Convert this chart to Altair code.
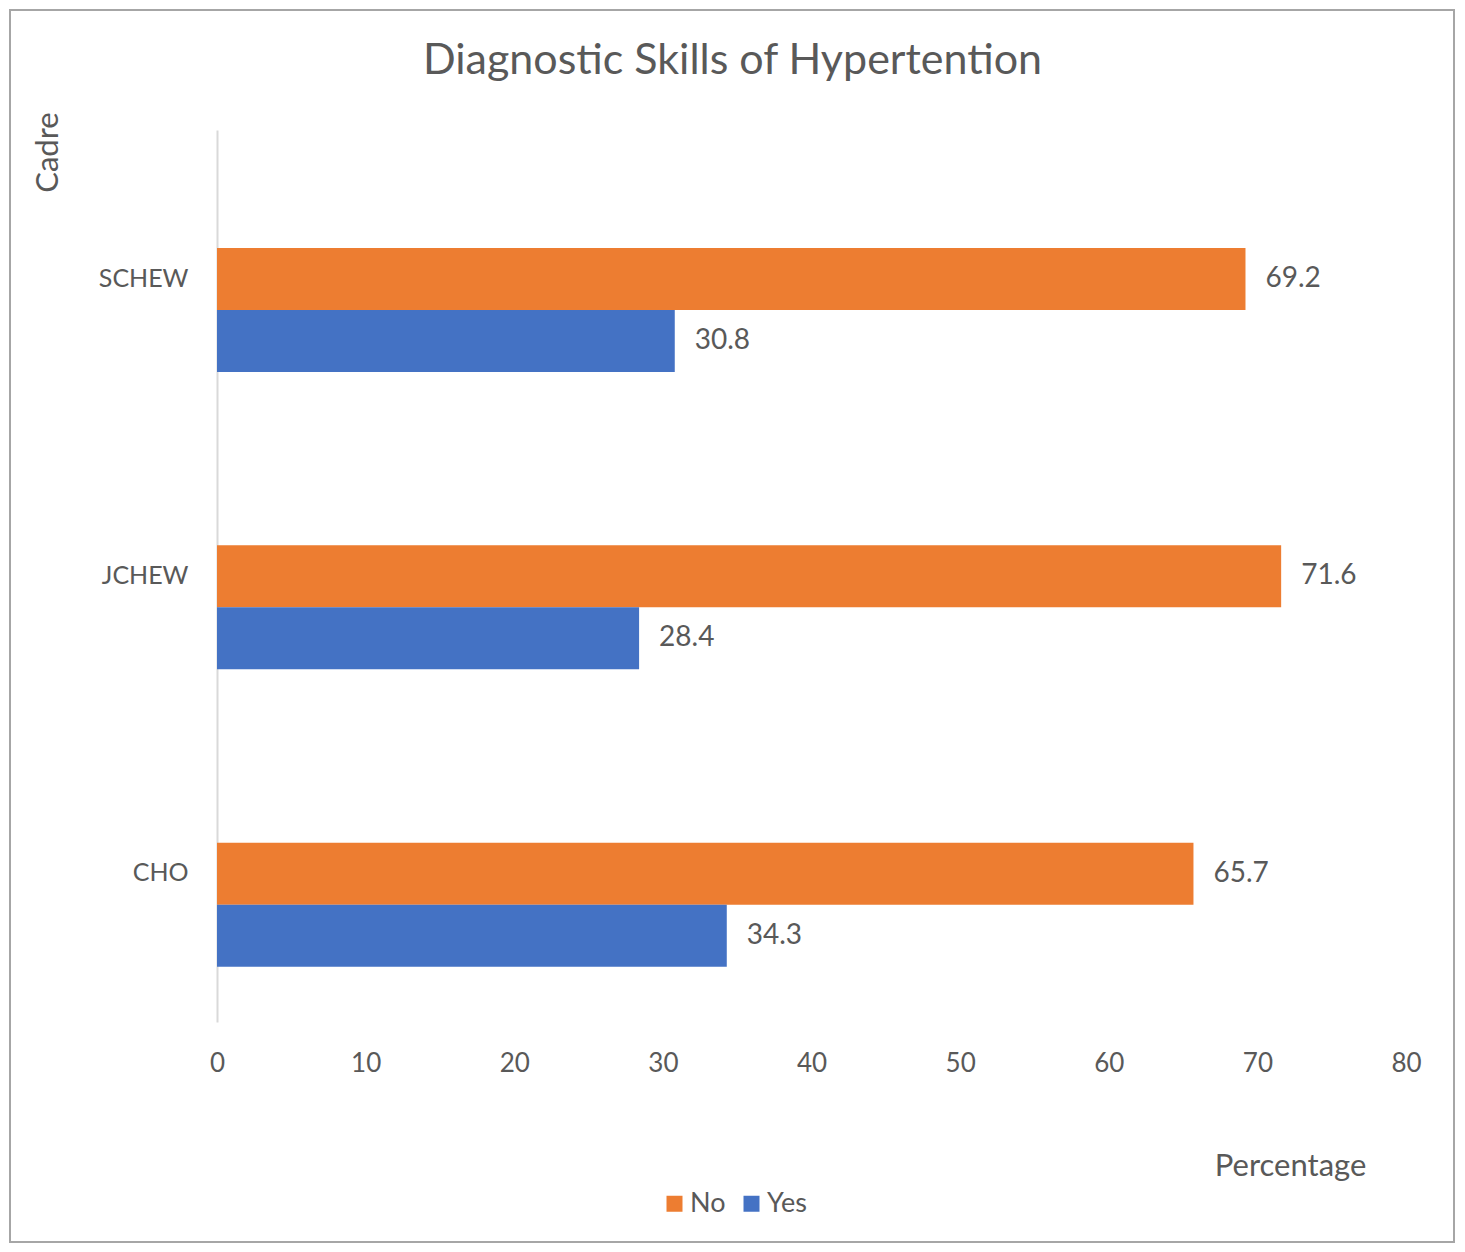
import altair as alt
import pandas as pd

cadres = ["SCHEW", "JCHEW", "CHO"]
no_vals = [69.2, 71.6, 65.7]
yes_vals = [30.8, 28.4, 34.3]
responses = ["No", "Yes"]
x_ticks = [0, 10, 20, 30, 40, 50, 60, 70, 80]

rows = []
for c, n, y in zip(cadres, no_vals, yes_vals):
    rows.append({"Cadre": c, "Response": "No", "Percentage": n, "Label": f"{n:.1f}"})
    rows.append({"Cadre": c, "Response": "Yes", "Percentage": y, "Label": f"{y:.1f}"})
df = pd.DataFrame(rows)

FONT = "Lato"
GRAY = "#595959"

y_enc = alt.Y("Cadre:N", sort=cadres,
              scale=alt.Scale(paddingInner=0, paddingOuter=0),
              axis=alt.Axis(title="Cadre", titleAngle=270, titleX=-169, titleY=22,
                            titleAlign="center", titleBaseline="middle",
                            titleFont=FONT, titleFontSize=31, titleFontWeight="normal",
                            titleColor=GRAY, labelFont=FONT, labelFontSize=25,
                            labelColor=GRAY, labelPadding=29, ticks=False, tickSize=0,
                            domainColor="#D9D9D9", domainWidth=2, grid=False))
yoff_enc = alt.YOffset("Response:N", sort=responses,
                       scale=alt.Scale(domain=responses, range=[118, 242],
                                       paddingInner=0, paddingOuter=0))
x_enc = alt.X("Percentage:Q",
              scale=alt.Scale(domain=[0, 80], nice=False),
              axis=alt.Axis(title="Percentage", values=x_ticks, titleX=1073, titleY=144,
                            titleAlign="center", titleBaseline="middle",
                            titleFont=FONT, titleFontSize=31, titleFontWeight="normal",
                            titleColor=GRAY, labelFont=FONT, labelFontSize=26,
                            labelColor=GRAY, labelPadding=28, labelFlush=False,
                            ticks=False, tickSize=0, domain=False, grid=False))

color_enc = alt.Color("Response:N", sort=responses,
                      scale=alt.Scale(domain=responses, range=["#ED7D31", "#4472C4"]),
                      legend=alt.Legend(title=None, orient="none", legendX=444, legendY=1060,
                                        direction="horizontal", symbolType="square",
                                        symbolSize=256, symbolStrokeWidth=0,
                                        labelFont=FONT, labelFontSize=27, labelColor=GRAY,
                                        labelOffset=2, columnPadding=12))

bars = alt.Chart(df).mark_bar().encode(
    x=x_enc, y=y_enc, yOffset=yoff_enc, color=color_enc
)

labels = alt.Chart(df).mark_text(align="left", baseline="middle", dx=20,
                                 font=FONT, fontSize=28, color=GRAY).encode(
    x="Percentage:Q", y=alt.Y("Cadre:N", sort=cadres), yOffset=yoff_enc, text="Label:N"
)

frame = alt.Chart(pd.DataFrame({"f": [0]})).mark_rect(
    fill=None, stroke="#A6A6A6", strokeWidth=2
).encode(x=alt.value(-207), x2=alt.value(1237), y=alt.value(-120), y2=alt.value(1112))

chart = alt.layer(frame, bars, labels).properties(
    width=1189, height=892,
    title=alt.TitleParams("Diagnostic Skills of Hypertention", font=FONT, fontSize=43,
                          fontWeight="normal", color=GRAY, anchor="middle", dx=-79,
                          baseline="alphabetic", offset=-108, frame="group"),
    autosize=alt.AutoSizeParams(type="none"),
    padding={"left": 209, "top": 122, "right": 50, "bottom": 222},
).configure_view(stroke=None)

chart.save("out.html", embed_options={"renderer": "svg", "actions": False})
